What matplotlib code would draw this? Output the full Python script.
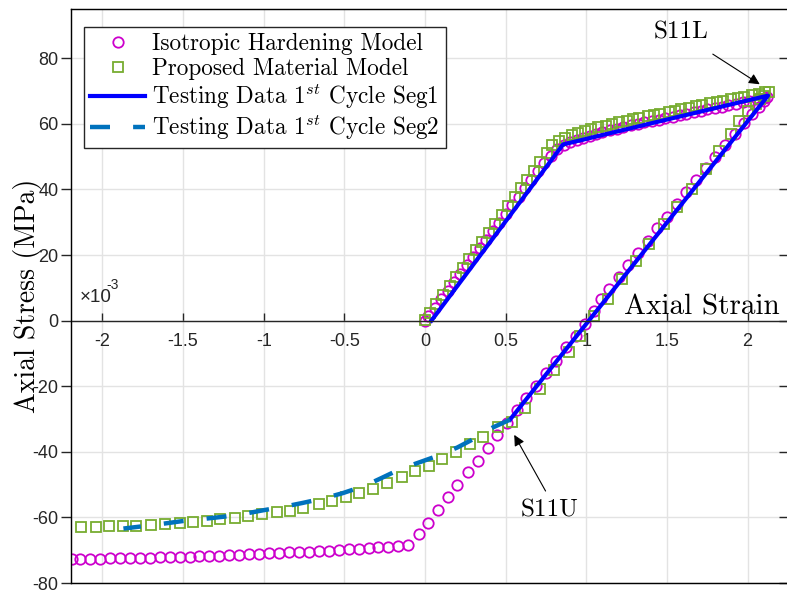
import matplotlib
matplotlib.use("Agg")
import matplotlib.pyplot as plt

# strain values are in units of 1e-3, stress in MPa

# Isotropic hardening model (magenta circles)
iso_strain = [0.00, 0.02, 0.06, 0.10, 0.14, 0.18, 0.22, 0.26, 0.30, 0.34, 0.38, 0.42, 0.46, 0.50,
              0.54, 0.58, 0.62, 0.66, 0.70, 0.74, 0.78,
              0.82, 0.86, 0.90, 0.94, 0.98, 1.02, 1.06, 1.10, 1.15, 1.19, 1.23, 1.28, 1.32, 1.36,
              1.41, 1.45, 1.49, 1.54, 1.58, 1.62, 1.67, 1.71, 1.75, 1.80, 1.84, 1.88, 1.93, 1.97,
              2.01, 2.06, 2.10, 2.12,
              2.10, 2.07, 2.03, 1.98, 1.92, 1.86, 1.80, 1.74, 1.68, 1.62, 1.56, 1.50, 1.44, 1.38,
              1.32, 1.26, 1.20, 1.14, 1.09, 1.05, 0.99, 0.936, 0.874, 0.81, 0.75, 0.688, 0.626,
              0.57, 0.508, 0.447, 0.39, 0.33, 0.267, 0.20, 0.14, 0.08, 0.02, -0.04, -0.105,
              -0.165, -0.227, -0.289, -0.35, -0.412, -0.474, -0.535, -0.597, -0.659, -0.72,
              -0.782, -0.844, -0.905, -0.967, -1.029, -1.09, -1.152, -1.214, -1.275, -1.337,
              -1.399, -1.46, -1.522, -1.584, -1.645, -1.707, -1.769, -1.83, -1.892, -1.954,
              -2.015, -2.077, -2.139, -2.19]
iso_stress = [0.0, 1.3, 3.9, 6.5, 9.1, 11.7, 14.3, 16.9, 19.5, 22.1, 24.7, 27.3, 29.9, 32.5,
              35.1, 37.7, 40.3, 42.9, 45.5, 48.0, 50.3,
              52.2, 53.4, 54.3, 55.0, 55.7, 56.3, 56.9, 57.4, 58.0, 58.5, 59.0, 59.5, 60.0, 60.4,
              60.9, 61.3, 61.8, 62.2, 62.6, 63.1, 63.5, 63.9, 64.4, 64.8, 65.2, 65.7, 66.1, 66.6,
              67.0, 67.5, 67.9, 68.2,
              66.8, 65.2, 63.0, 60.3, 57.0, 53.6, 50.0, 46.4, 42.8, 39.1, 35.4, 31.7, 28.1, 24.4,
              20.7, 17.1, 13.4, 9.7, 6.5, 3.0, -0.9, -4.6, -8.2, -12.2, -15.9, -19.8, -23.5,
              -27.2, -31.1, -35.0, -38.8, -42.7, -46.3, -50.0, -53.9, -57.7, -61.6, -65.2, -68.3,
              -68.7, -68.9, -69.1, -69.3, -69.5, -69.7, -69.9, -70.1, -70.2, -70.4,
              -70.6, -70.7, -70.9, -71.0, -71.2, -71.3, -71.4, -71.5, -71.7, -71.8,
              -71.9, -72.0, -72.1, -72.2, -72.2, -72.3, -72.4, -72.4, -72.5, -72.5,
              -72.6, -72.6, -72.7, -72.7]

# Proposed material model (green squares)
prop_strain = [0.00, 0.03, 0.07, 0.11, 0.155, 0.195, 0.235, 0.275, 0.315, 0.355, 0.395, 0.435,
               0.475, 0.515, 0.555, 0.595, 0.635, 0.675, 0.715, 0.755, 0.79,
               0.83, 0.87, 0.91, 0.95, 0.99, 1.03, 1.07, 1.12, 1.16, 1.20, 1.25, 1.29, 1.33, 1.38,
               1.42, 1.46, 1.51, 1.55, 1.59, 1.64, 1.68, 1.72, 1.77, 1.81, 1.85, 1.90, 1.94, 1.98,
               2.03, 2.07, 2.11, 2.13,
               2.10, 2.08, 2.05, 2.00, 1.95, 1.90, 1.82, 1.74, 1.655, 1.56, 1.48, 1.39, 1.31, 1.22,
               1.135, 1.05, 0.96, 0.89, 0.80, 0.71, 0.62, 0.54,
               0.45, 0.36, 0.28, 0.19, 0.107, 0.025, -0.062, -0.145, -0.236, -0.32, -0.41, -0.49,
               -0.576, -0.66, -0.756, -0.84, -0.92, -1.01, -1.10, -1.18, -1.27, -1.35, -1.44,
               -1.52, -1.61, -1.70, -1.79, -1.87, -1.96, -2.04, -2.13]
prop_stress = [0.3, 2.4, 5.2, 7.9, 10.6, 13.3, 16.0, 18.7, 21.4, 24.1, 26.8, 29.5,
               32.2, 34.9, 37.6, 40.3, 43.0, 45.7, 48.4, 51.1, 53.4,
               54.8, 55.8, 56.6, 57.3, 57.9, 58.4, 58.9, 59.4, 59.9, 60.4, 60.9, 61.4, 61.8, 62.3,
               62.7, 63.1, 63.6, 64.0, 64.4, 64.9, 65.3, 65.7, 66.2, 66.6, 67.0, 67.5, 67.9, 68.3,
               68.8, 69.2, 69.6, 69.8,
               68.6, 67.7, 66.1, 64.0, 61.0, 57.0, 51.8, 46.3, 40.2, 34.5, 29.3, 23.5, 18.3, 12.8,
               6.7, 1.5, -4.6, -9.7, -15.2, -20.8, -26.5, -31.0,
               -32.3, -35.6, -37.6, -40.1, -42.2, -44.2, -46.0, -47.8, -49.6, -51.2, -52.5, -53.9,
               -54.9, -55.9, -57.0, -57.9, -58.5, -59.1, -59.7, -60.1, -60.6, -61.2, -61.5,
               -61.8, -62.0, -62.2, -62.5, -62.6, -62.7, -62.8, -62.9]

# Testing data, 1st cycle
seg1_strain = [0.04, 0.856, 1.5, 2.127, 0.527]
seg1_stress = [0.0, 53.7, 61.3, 68.6, -30.2]
seg2_strain = [0.527, 0.42, 0.32, 0.20, 0.08, -0.04, -0.155, -0.27, -0.37, -0.51, -0.62,
               -0.76, -0.87, -1.00, -1.12, -1.25, -1.38, -1.50, -1.62, -1.75, -1.87]
seg2_stress = [-30.2, -32.6, -35.6, -38.7, -41.2, -43.3, -45.3, -48.0, -50.3, -52.6, -54.1,
               -55.6, -56.7, -57.8, -58.9, -59.8, -60.5, -61.1, -61.9, -62.7, -63.4]

x_ticks = [-2, -1.5, -1, -0.5, 0, 0.5, 1, 1.5, 2]
x_tick_labels = ['-2', '-1.5', '-1', '-0.5', '0', '0.5', '1', '1.5', '2']
y_ticks = [-80, -60, -40, -20, 0, 20, 40, 60, 80]

plt.rcParams['font.family'] = ['cmr10', 'DejaVu Serif']
plt.rcParams['mathtext.fontset'] = 'cm'
plt.rcParams['axes.unicode_minus'] = False

gray = '#262626'
tick_font = dict(family='Liberation Sans', size=13, color=gray)

fig = plt.figure(figsize=(7.87, 5.92), dpi=100)
ax = fig.add_axes([71 / 787, 9 / 592, 718 / 787, 574 / 592])

ax.plot(iso_strain, iso_stress, 'o', ls='none', ms=7.5, mfc='none', mec='#CC00CC', mew=1.3,
        label='Isotropic Hardening Model')
ax.plot(prop_strain, prop_stress, 's', ls='none', ms=7.5, mfc='none', mec='#77AC30', mew=1.3,
        label='Proposed Material Model')
ax.plot(seg1_strain, seg1_stress, '-', color='#0000FF', lw=3,
        label=r'Testing Data 1$^{st}$ Cycle Seg1')
ax.plot(seg2_strain, seg2_stress, '--', color='#0072BD', lw=3.2, dashes=(4.5, 5.2),
        label=r'Testing Data 1$^{st}$ Cycle Seg2')

ax.set_xlim(-2.195, 2.257)
ax.set_ylim(-80, 95)

# x axis crosses at the origin, keep the box edge at the bottom
ax.spines['bottom'].set_position(('data', 0))
ax.plot([0, 1], [0, 0], transform=ax.transAxes, color=gray, lw=1.0, clip_on=False)
for s in ['left', 'top', 'bottom', 'right']:
    ax.spines[s].set_color(gray)
    ax.spines[s].set_linewidth(1.0)

ax.set_xticks(x_ticks)
ax.set_xticklabels(x_tick_labels, **tick_font)
ax.set_yticks(y_ticks)
ax.set_yticklabels([str(v) for v in y_ticks], **tick_font)
ax.tick_params(axis='x', direction='in', length=6, width=1, color=gray, pad=9)
ax.tick_params(axis='y', direction='out', length=7, width=1, color=gray, pad=2)
ax.grid(True, color='#e3e3e3', lw=1.0)
ax.set_axisbelow(True)

# right-hand ticks point inwards
ax2 = ax.twinx()
ax2.set_ylim(ax.get_ylim())
ax2.set_yticks(y_ticks)
ax2.tick_params(axis='y', direction='in', length=7, width=1, color=gray, labelright=False)
ax2.spines['right'].set_color(gray)

ax.set_ylabel('Axial Stress (MPa)', fontsize=20)
ax.yaxis.set_label_coords(-0.040, 0.5)

ax.text(2.20, 2.0, 'Axial Strain', fontsize=21, ha='right', va='baseline')
ax.text(-2.139, 5.6, '\u00d710', family='Liberation Sans', size=13.5, color=gray, va='baseline')
ax.text(-1.975, 9.6, '-3', family='Liberation Sans', size=10, color=gray, va='baseline')

ax.annotate('', xy=(2.09, 71.6), xytext=(1.77, 81.7),
            arrowprops=dict(arrowstyle='-|>', color='k', lw=0.8, mutation_scale=16))
ax.text(1.59, 87.8, 'S11L', fontsize=18, ha='center', va='center')
ax.annotate('', xy=(0.545, -34.1), xytext=(0.756, -52.7),
            arrowprops=dict(arrowstyle='-|>', color='k', lw=0.8, mutation_scale=16))
ax.text(0.775, -58.0, 'S11U', fontsize=18, ha='center', va='center')

leg = ax.legend(loc='upper left', bbox_to_anchor=(0.018, 0.969), borderaxespad=0,
                fontsize=16.7, handlelength=2.4, handletextpad=0.3, labelspacing=0.12,
                borderpad=0.25, fancybox=False, framealpha=1, edgecolor=gray)
leg.get_frame().set_linewidth(1.0)

fig.savefig('out.png', dpi=100)
